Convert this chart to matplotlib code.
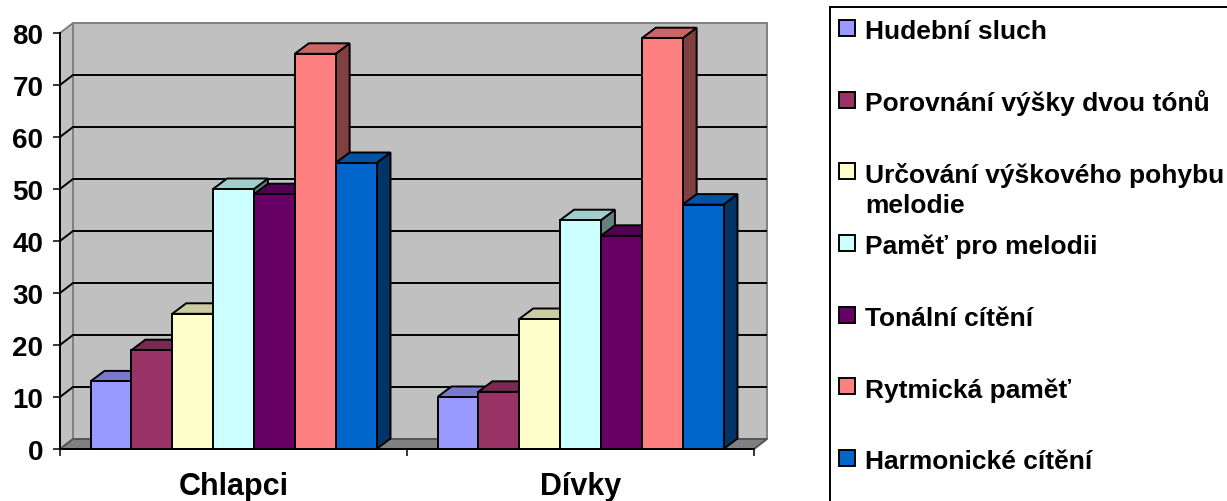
import matplotlib
matplotlib.use('Agg')
import matplotlib.pyplot as plt
from matplotlib.patches import Polygon, Rectangle
import numpy as np

plt.rcParams['font.family'] = ['Liberation Sans', 'DejaVu Sans']
plt.rcParams['font.weight'] = 'bold'

# ---- data ----
categories = ['Chlapci', 'Dívky']
series_names = ['Hudební sluch',
                'Porovnání výšky dvou tónů',
                'Určování výškového pohybu\nmelodie',
                'Paměť pro melodii',
                'Tonální cítění',
                'Rytmická paměť',
                'Harmonické cítění']
chlapci = [13, 19, 26, 50, 49, 76, 55]
divky = [10, 11, 25, 44, 41, 79, 47]
series_colors = ['#9999FF', '#993366', '#FFFFCC', '#CCFFFF',
                 '#660066', '#FF8080', '#0066CC']
y_ticks = [0, 10, 20, 30, 40, 50, 60, 70, 80]

# ---- layout ----
W, H = 1227, 502
fig = plt.figure(figsize=(W / 100, H / 100), dpi=100)
fig.patch.set_facecolor('white')
ax = fig.add_axes([60 / W, 1 - 450 / H, 694 / W, 416 / H])
ax.set_xlim(-0.5, 1.5)
ax.set_ylim(0, 80)
ax.patch.set_visible(False)

sx = 2.0 / 694      # data units per pixel (x)
sy = 80.0 / 416     # data units per pixel (y)
wdx, wdy = 13 * sx, 10 * sy     # wall depth
bdx, bdy = 14 * sx, 10.5 * sy   # bar depth
bw = (286 / 7) * sx             # bar width

def shade(c, f):
    r, g, b = matplotlib.colors.to_rgb(c)
    return (r * f, g * f, b * f)

wall_c = '#C0C0C0'
edge_gray = '#808080'
lw = 1.4

# back wall
ax.add_patch(Rectangle((-0.5 + wdx, wdy), 2.0, 80, facecolor=wall_c,
                       edgecolor=edge_gray, lw=lw, zorder=0.5, clip_on=False))
# left wall
ax.add_patch(Polygon([(-0.5, 0), (-0.5 + wdx, wdy), (-0.5 + wdx, 80 + wdy), (-0.5, 80)],
                     closed=True, facecolor=wall_c, edgecolor=edge_gray, lw=lw,
                     zorder=0.55, clip_on=False))
# floor
ax.add_patch(Polygon([(-0.5, 0), (1.5, 0), (1.5 + wdx, wdy), (-0.5 + wdx, wdy)],
                     closed=True, facecolor=edge_gray, edgecolor='#555555', lw=lw,
                     zorder=0.6, clip_on=False))
# gridlines
for v in y_ticks[1:-1]:
    ax.plot([-0.5, -0.5 + wdx, 1.5 + wdx], [v, v + wdy, v + wdy], color='black',
            lw=lw, zorder=0.7, clip_on=False, solid_capstyle='butt')

# bars
for g, vals in enumerate([chlapci, divky]):
    for k, v in enumerate(vals):
        c = series_colors[k]
        x0 = g - 3.5 * bw + k * bw
        x1 = x0 + bw
        ax.add_patch(Polygon([(x1, 0), (x1 + bdx, bdy), (x1 + bdx, v + bdy), (x1, v)],
                             closed=True, facecolor=shade(c, 0.5), edgecolor='black',
                             lw=lw, zorder=2, clip_on=False, joinstyle='miter'))
        ax.add_patch(Polygon([(x0, v), (x1, v), (x1 + bdx, v + bdy), (x0 + bdx, v + bdy)],
                             closed=True, facecolor=shade(c, 0.8), edgecolor='black',
                             lw=lw, zorder=2, clip_on=False, joinstyle='miter'))
        ax.add_patch(Rectangle((x0, 0), bw, v, facecolor=c, edgecolor='black',
                               lw=lw, zorder=2, clip_on=False, joinstyle='miter'))

# spines / ticks
for s in ['top', 'right']:
    ax.spines[s].set_visible(False)
for s in ['left', 'bottom']:
    ax.spines[s].set_linewidth(lw)
    ax.spines[s].set_color('black')
    ax.spines[s].set_zorder(3)

ax.set_yticks(y_ticks)
ax.set_yticklabels([str(t) for t in y_ticks], fontsize=20, fontweight='bold')
ax.tick_params(axis='y', direction='out', length=5, width=1.1, pad=7, colors='black')

ax.set_xticks([0, 1])
ax.set_xticklabels(categories, fontsize=22, fontweight='bold')
ax.tick_params(axis='x', which='major', length=0, pad=16)
ax.set_xticks([-0.5, 0.5, 1.5], minor=True)
ax.tick_params(axis='x', which='minor', direction='out', length=5, width=1.1)

# legend (drawn manually to mimic the clipped box)
fig.add_artist(Rectangle((830 / W, -0.2), 1.0, 1.2 - 8 / H, transform=fig.transFigure,
                         fill=False, edgecolor='black', lw=1.4))
slot0, slot_step, line_step = 30.0, 71.67, 30.7
for i, (name, c) in enumerate(zip(series_names, series_colors)):
    yc = slot0 + i * slot_step
    fig.add_artist(Rectangle((839 / W, 1 - (yc + 7) / H), 16 / W, 16 / H,
                             transform=fig.transFigure, facecolor=c,
                             edgecolor='black', lw=1.4))
    for j, line in enumerate(name.split('\n')):
        fig.text(865 / W, 1 - (yc + 9.3 + j * line_step) / H, line, fontsize=19,
                 fontweight='bold', va='baseline', ha='left', color='black')

fig.savefig('out.png', dpi=100, facecolor='white')
